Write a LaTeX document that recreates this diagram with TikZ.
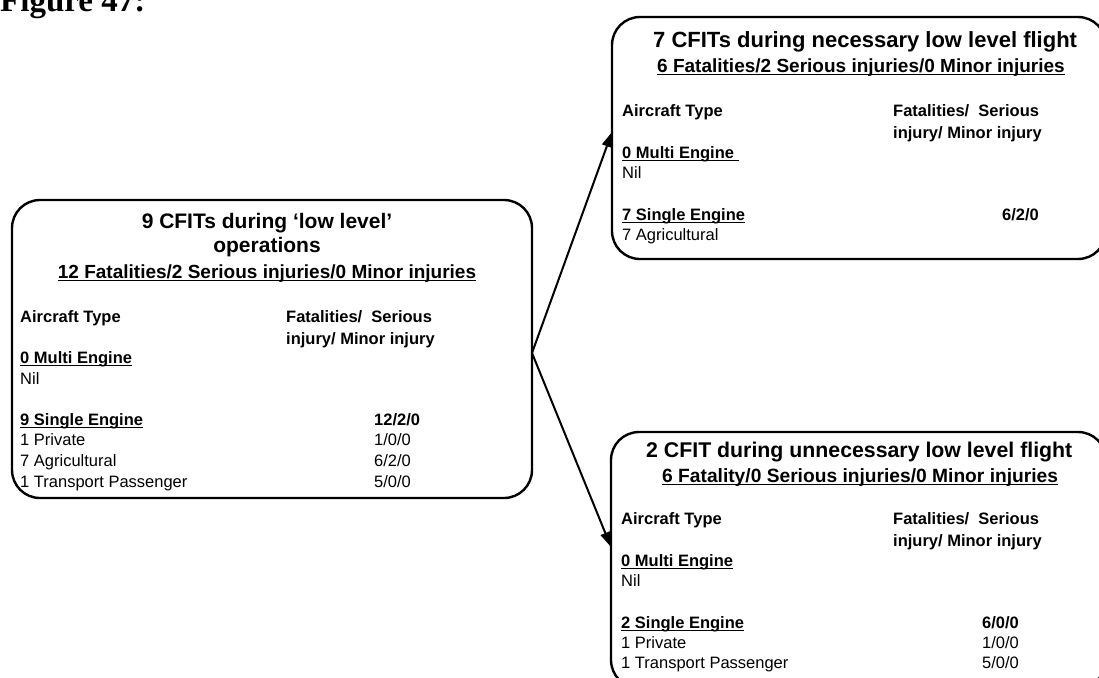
\documentclass[tikz,border=0pt]{standalone}
\usepackage{fontspec}
\setmainfont{Liberation Sans}
\newfontfamily\figfont{Liberation Serif}
\usetikzlibrary{arrows.meta}

% soulignement
\newcommand{\undl}[1]{\setbox0=\hbox{#1}\rlap{\vrule height -2pt depth 3.4pt width \wd0}\box0}

\tikzset{
    box/.style={draw, line width=2.4pt, rounded corners=28pt, inner sep=0pt, outer sep=0pt},
    ln/.style={anchor=base west, inner sep=0pt, font=\fontsize{16.5}{20}\selectfont},
    lnb/.style={ln, font=\bfseries\fontsize{16.5}{20}\selectfont},
    ttl/.style={anchor=base, inner sep=0pt, font=\bfseries\fontsize{#1}{#1}\selectfont},
    arr/.style={-{Triangle[length=15pt,width=10pt]}, line width=2pt},
}

\begin{document}
\begin{tikzpicture}[x=1pt,y=-1pt]
    \useasboundingbox (0,0) rectangle (1099,677);
    \clip (0,0) rectangle (1099,677);

    % Legende
    \node[anchor=base west, inner sep=0pt, font=\figfont\bfseries\fontsize{33}{33}\selectfont] (fig) at (0,12) {Figure 47:};

    % Cadres
    \node[box, minimum width=520pt, minimum height=298pt] (low) at (272,349) {};
    \node[box, minimum width=494pt, minimum height=242pt] (nec) at (859,138) {};
    \node[box, minimum width=495pt, minimum height=256pt] (unn) at (858.5,560) {};

    % Vols a basse altitude
    \node[ttl=21] (low-t1) at (267,228) {9 CFITs during ‘low level’};
    \node[ttl=21] (low-t2) at (267,252) {operations};
    \node[ttl=19] (low-t3) at (267,278) {\undl{12 Fatalities/2 Serious injuries/0 Minor injuries}};
    \node[lnb] (low-h1) at (20,322) {Aircraft Type};
    \node[lnb] (low-h2) at (286,322) {Fatalities/\ \ Serious};
    \node[lnb] (low-h3) at (286,344) {injury/ Minor injury};
    \node[lnb] (low-m) at (20,363) {\undl{0 Multi Engine}};
    \node[ln] (low-nil) at (20,384) {Nil};
    \node[lnb] (low-s) at (20,425) {\undl{9 Single Engine}};
    \node[lnb] (low-st) at (374,425) {12/2/0};
    \foreach \y/\a/\n in {445/1 Private/{1/0/0}, 466/7 Agricultural/{6/2/0}, 487/1 Transport Passenger/{5/0/0}} {
        \node[ln] (low-a\y) at (20,\y) {\a};
        \node[ln] (low-n\y) at (374,\y) {\n};
    }

    % Vols necessaires
    \node[ttl=22, anchor=base west] (nec-t1) at (653,48) {7 CFITs during necessary low level flight};
    \node[ttl=19, anchor=base west] (nec-t2) at (657,72) {\undl{6 Fatalities/2 Serious injuries/0 Minor injuries}};
    \node[lnb] (nec-h1) at (622,116) {Aircraft Type};
    \node[lnb] (nec-h2) at (893,116) {Fatalities/\ \ Serious};
    \node[lnb] (nec-h3) at (893,138) {injury/ Minor injury};
    \node[lnb] (nec-m) at (622,158) {\undl{0 Multi Engine\ }};
    \node[ln] (nec-nil) at (622,178) {Nil};
    \node[lnb] (nec-s) at (622,220) {\undl{7 Single Engine}};
    \node[lnb] (nec-st) at (1002,220) {6/2/0};
    \node[ln] (nec-a1) at (622,240) {7 Agricultural};

    % Vols non necessaires
    \node[ttl=21.3, anchor=base west] (unn-t1) at (646,457) {2 CFIT during unnecessary low level flight};
    \node[ttl=19.2, anchor=base west] (unn-t2) at (662,482) {\undl{6 Fatality/0 Serious injuries/0 Minor injuries}};
    \node[lnb] (unn-h1) at (621,524) {Aircraft Type};
    \node[lnb] (unn-h2) at (893,524) {Fatalities/\ \ Serious};
    \node[lnb] (unn-h3) at (893,546) {injury/ Minor injury};
    \node[lnb] (unn-m) at (621,566) {\undl{0 Multi Engine}};
    \node[ln] (unn-nil) at (621,586) {Nil};
    \node[lnb] (unn-s) at (621,628) {\undl{2 Single Engine}};
    \node[lnb] (unn-st) at (982,628) {6/0/0};
    \foreach \y/\a/\n in {648/1 Private/{1/0/0}, 668/1 Transport Passenger/{5/0/0}} {
        \node[ln] (unn-a\y) at (621,\y) {\a};
        \node[ln] (unn-n\y) at (982,\y) {\n};
    }

    % Fleches
    \draw[arr] ([yshift=-4pt]low.east) -- ([yshift=6pt]nec.west);
    \draw[arr] ([yshift=-4pt]low.east) -- ([yshift=13pt]unn.west);
\end{tikzpicture}
\end{document}
